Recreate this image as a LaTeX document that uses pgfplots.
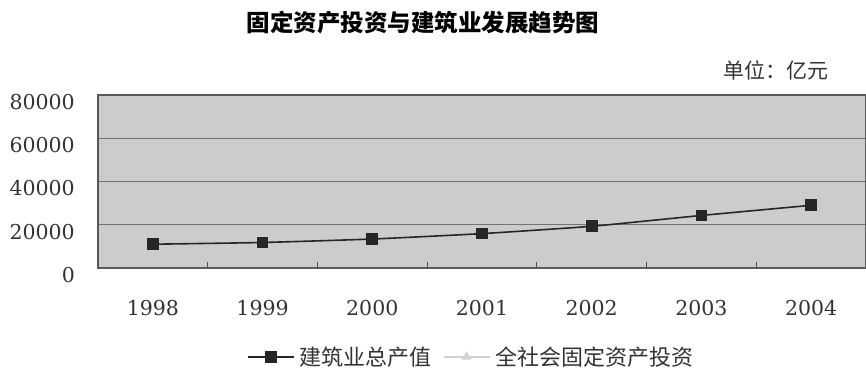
\documentclass[border=0pt]{standalone}
\usepackage{pgfplots}
\usepackage{pgfplotstable}
\pgfplotsset{compat=1.18}
\usepackage{fontspec}
\newfontfamily\cjk{Noto Sans CJK SC}
\newfontfamily\numfont{DejaVu Serif}

% 建筑业总产值（亿元）
\pgfplotstableread{
idx value
0 11000
1 11800
2 13400
3 15900
4 19300
5 24300
6 29000
}\buildtable

\begin{document}
\begin{tikzpicture}[x=1pt,y=1pt]
\useasboundingbox (0,0) rectangle (866,369);
\node[font=\cjk\bfseries\fontsize{23.5}{23.5}\selectfont] at (423,346) {固定资产投资与建筑业发展趋势图};
\node[font=\cjk\fontsize{21}{21}\selectfont, text=black!80] at (776,299) {单位：亿元};
\begin{axis}[
  at={(98pt,101pt)}, anchor=south west,
  scale only axis, width=768pt, height=173pt,
  xmin=-0.5, xmax=6.5, ymin=0, ymax=80000,
  xtick={0,...,6}, xticklabels={1998,1999,2000,2001,2002,2003,2004},
  ytick={0,20000,40000,60000,80000},
  scaled y ticks=false,
  /pgf/number format/assume math mode=true,
  yticklabel style={/pgf/number format/1000 sep={}, anchor=east, inner sep=0pt, xshift=-23pt, yshift=-7pt},
  xticklabel style={anchor=north, inner sep=0pt, yshift=-32pt},
  tick label style={font=\numfont\fontsize{20.5}{20.5}\selectfont, text=black!80},
  major tick length=0pt,
  xtick pos=bottom, ytick pos=left,
  extra x ticks={0.5,1.5,2.5,3.5,4.5,5.5},
  extra x tick labels={},
  extra x tick style={major tick length=6pt, tick style={black!70, line width=0.9pt}, grid=none},
  ymajorgrids,
  grid style={black!55, line width=1pt},
  axis background/.style={fill=gray!40},
  axis line style={black!65, line width=1.2pt},
  legend columns=2,
  legend style={at={(0.488,-0.514)}, anchor=center, draw=none, fill=none,
    font=\cjk\fontsize{22}{22}\selectfont, text=black!80,
    nodes={inner xsep=5pt, inner ysep=0pt},
    /tikz/every even column/.append style={column sep=6pt}},
  legend image code/.code={
    \draw[mark repeat=2, mark phase=2, #1] plot coordinates {(0pt,0pt) (23pt,0pt) (46pt,0pt)};
  },
]
\addplot[black!85, line width=1.6pt, smooth, tension=0.3,
  mark=square*, mark size=5pt, mark options={solid, fill=black!85}]
  table[x=idx, y=value] {\buildtable};
\addlegendentry{建筑业总产值}
\addlegendimage{black!18, line width=1.6pt, mark=triangle*, mark size=4pt, mark options={fill=black!18}}
\addlegendentry{全社会固定资产投资}
\end{axis}
\end{tikzpicture}
\end{document}
